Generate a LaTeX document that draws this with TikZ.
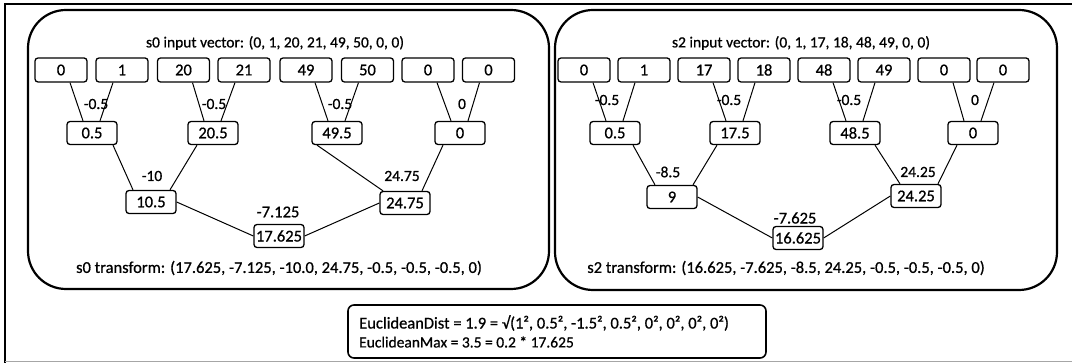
\documentclass[tikz,border=0pt]{standalone}
\usepackage{fontspec}
\setmainfont{Carlito}[FakeBold=0.7]
\usetikzlibrary{calc}
\begin{document}
\begin{tikzpicture}[x=1pt,y=-1pt,
  every node/.style={font=\fontsize{15.5}{17}\selectfont, inner sep=0pt},
  big/.style={font=\fontsize{16.5}{18}\selectfont},
  val/.style={draw, big, line width=1.3pt, rounded corners=3pt, minimum width=52pt, minimum height=24pt},
  mid/.style={draw, big, line width=1.3pt, rounded corners=3pt, minimum width=50pt, minimum height=23pt},
  panel/.style={draw, line width=2.2pt, rounded corners=38pt},
  link/.style={line width=1pt}
]
\useasboundingbox (0,0) rectangle (1072,363);

% outer frame
\draw[line width=1.4pt] (5,363) -- (5,4) -- (1072,4);
\draw[line width=0.8pt, black!35] (5,361.5) -- (1072,361.5);

% panels
\draw[panel] (28,10) rectangle (549,289);
\draw[panel] (555,10) rectangle (1057,290);

% ---------- s0 ----------
\node at (275,43) {s0 input vector: (0, 1, 20, 21, 49, 50, 0, 0)};
\foreach \x/\v/\n in {61/0/a1,122/1/a2,183.5/20/a3,244/21/a4,306/49/a5,367.5/50/a6,428/0/a7,488.5/0/a8}
  \node[val] (\n) at (\x,70) {\v};
\node[mid] (b1) at (92,133) {0.5};
\node[mid] (b2) at (213,133) {20.5};
\node[mid] (b3) at (337,133) {49.5};
\node[mid] (b4) at (460,133) {0};
\node[mid] (c1) at (151,202) {10.5};
\node[mid] (c2) at (405,203) {24.75};
\node[mid] (d1) at (279,236) {17.625};

\draw[link] ([xshift=9pt]a1.south) -- ([xshift=-9pt]b1.north);
\draw[link] ([xshift=-9pt]a2.south) -- ([xshift=8pt]b1.north);
\draw[link] ([xshift=9pt]a3.south) -- ([xshift=-9pt]b2.north);
\draw[link] ([xshift=-9pt]a4.south) -- ([xshift=8pt]b2.north);
\draw[link] ([xshift=9pt]a5.south) -- ([xshift=-9pt]b3.north);
\draw[link] ([xshift=-9pt]a6.south) -- ([xshift=8pt]b3.north);
\draw[link] ([xshift=9pt]a7.south) -- ([xshift=-9pt]b4.north);
\draw[link] ([xshift=-9pt]a8.south) -- ([xshift=8pt]b4.north);
\draw[link] ([xshift=21pt]b1.south) -- ([xshift=-18pt]c1.north);
\draw[link] ([xshift=-16pt]b2.south) -- ([xshift=19pt]c1.north);
\draw[link] ([xshift=-20pt]b3.south) -- ([xshift=-22pt]c2.north);
\draw[link] ([xshift=-17pt]b4.south) -- ([xshift=17pt]c2.north);
\draw[link] (c1.east) -- (d1.west);
\draw[link] (c2.west) -- (d1.east);

\node at (96,104) {-0.5};
\node at (214,104) {-0.5};
\node at (340,104) {-0.5};
\node at (462,104) {0};
\node at (152,176) {-10};
\node at (402,176) {24.75};
\node[big] at (278,212) {-7.125};
\node[big] at (279,268) {s0 transform: (17.625, -7.125, -10.0, 24.75, -0.5, -0.5, -0.5, 0)};

% ---------- s2 ----------
\node at (801,43) {s2 input vector: (0, 1, 17, 18, 48, 49, 0, 0)};
\foreach \x/\v/\n in {584/0/e1,644/1/e2,704/17/e3,764/18/e4,824/48/e5,884/49/e6,944/0/e7,1003/0/e8}
  \node[val] (\n) at (\x,70) {\v};
\node[mid] (f1) at (615,133) {0.5};
\node[mid] (f2) at (735,133) {17.5};
\node[mid] (f3) at (855,133) {48.5};
\node[mid] (f4) at (973,133) {0};
\node[mid] (g1) at (672,197) {9};
\node[mid] (g2) at (916,196) {24.25};
\node[mid] (h1) at (798,238) {16.625};

\draw[link] ([xshift=9pt]e1.south) -- ([xshift=-9pt]f1.north);
\draw[link] ([xshift=-9pt]e2.south) -- ([xshift=8pt]f1.north);
\draw[link] ([xshift=9pt]e3.south) -- ([xshift=-9pt]f2.north);
\draw[link] ([xshift=-9pt]e4.south) -- ([xshift=8pt]f2.north);
\draw[link] ([xshift=9pt]e5.south) -- ([xshift=-9pt]f3.north);
\draw[link] ([xshift=-9pt]e6.south) -- ([xshift=8pt]f3.north);
\draw[link] ([xshift=9pt]e7.south) -- ([xshift=-9pt]f4.north);
\draw[link] ([xshift=-9pt]e8.south) -- ([xshift=8pt]f4.north);
\draw[link] ([xshift=18pt]f1.south) -- ([xshift=-17pt]g1.north);
\draw[link] ([xshift=-18pt]f2.south) -- ([xshift=21pt]g1.north);
\draw[link] ([xshift=20pt]f3.south) -- ([xshift=-16pt]g2.north);
\draw[link] ([xshift=-16pt]f4.south) -- ([xshift=22pt]g2.north);
\draw[link] (g1.east) -- (h1.west);
\draw[link] (g2.west) -- (h1.east);

\node at (607,100) {-0.5};
\node at (729,100) {-0.5};
\node at (849,100) {-0.5};
\node at (975,100) {0};
\node at (668,172) {-8.5};
\node at (918,172) {24.25};
\node[big] at (795,218) {-7.625};
\node[big] at (786,268) {s2 transform: (16.625, -7.625, -8.5, 24.25, -0.5, -0.5, -0.5, 0)};

% ---------- distance summary ----------
\node[draw, line width=1.6pt, rounded corners=6pt, minimum width=418pt, minimum height=53pt] (sum) at (557,331.5) {};
\node[anchor=west, big] (dist) at (359,323) {EuclideanDist = 1.9 = √(1², 0.5², -1.5², 0.5², 0², 0², 0², 0²)};
\node[anchor=west] (emax) at (359,342) {EuclideanMax = 3.5 = 0.2 * 17.625};
\end{tikzpicture}
\end{document}
